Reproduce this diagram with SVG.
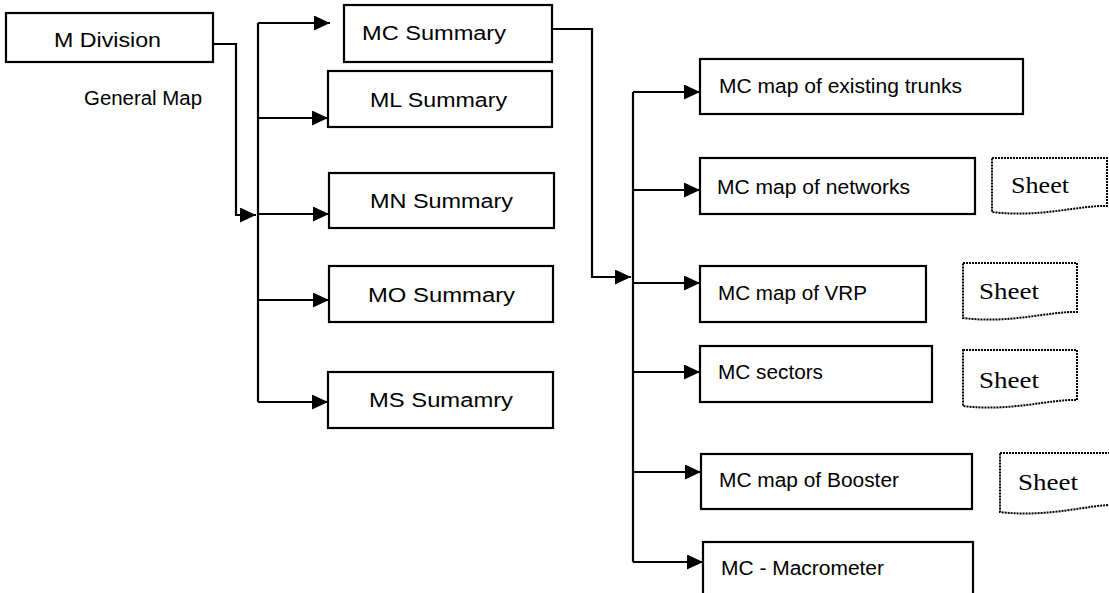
<svg xmlns="http://www.w3.org/2000/svg" width="1109" height="593" viewBox="0 0 1109 593">
<style>
.box{fill:#fff;stroke:#000;stroke-width:2.2}
.sheet{fill:#fff;stroke:#000;stroke-width:2;stroke-dasharray:2 1}
.t{font-family:"Liberation Sans",Arial,sans-serif;font-size:20px;fill:#000}
.s{font-family:"Liberation Serif","Times New Roman",serif;font-size:23px;fill:#000}
.c{fill:none;stroke:#000;stroke-width:2.2}
</style>
<defs>
<marker id="ah" markerUnits="userSpaceOnUse" markerWidth="17" markerHeight="15" refX="16" refY="7.5" orient="auto">
<path d="M0,0 L16,7.5 L0,15 Z" fill="#000"/>
</marker>
</defs>
<rect width="1109" height="593" fill="#fff"/>
<g id="connectors">
<path class="c" d="M213,44 H236 V215 H256" marker-end="url(#ah)"/>
<path class="c" d="M258,23 V402"/>
<path class="c" d="M258,23 H330" marker-end="url(#ah)"/>
<path class="c" d="M258,118 H328" marker-end="url(#ah)"/>
<path class="c" d="M258,214 H329" marker-end="url(#ah)"/>
<path class="c" d="M258,300 H329" marker-end="url(#ah)"/>
<path class="c" d="M258,402 H328" marker-end="url(#ah)"/>
<path class="c" d="M552,29 H592 V277 H631" marker-end="url(#ah)"/>
<path class="c" d="M633,92 V562"/>
<path class="c" d="M633,92 H700" marker-end="url(#ah)"/>
<path class="c" d="M633,190 H700" marker-end="url(#ah)"/>
<path class="c" d="M633,283 H700" marker-end="url(#ah)"/>
<path class="c" d="M633,372 H700" marker-end="url(#ah)"/>
<path class="c" d="M633,472 H701" marker-end="url(#ah)"/>
<path class="c" d="M633,562 H703" marker-end="url(#ah)"/>
</g>
<g id="m-division">
<rect class="box" x="6" y="13" width="207" height="49"/>
<text class="t" x="54" y="47" textLength="107" lengthAdjust="spacingAndGlyphs">M Division</text>
</g>
<g id="general-map">
<text class="t" x="84" y="105" textLength="118" lengthAdjust="spacingAndGlyphs">General Map</text>
</g>
<g id="mc-summary">
<rect class="box" x="344" y="5" width="208" height="57"/>
<text class="t" x="362" y="40" textLength="144" lengthAdjust="spacingAndGlyphs">MC Summary</text>
</g>
<g id="ml-summary">
<rect class="box" x="328" y="71" width="224" height="56"/>
<text class="t" x="370" y="107" textLength="137" lengthAdjust="spacingAndGlyphs">ML Summary</text>
</g>
<g id="mn-summary">
<rect class="box" x="329" y="173" width="225" height="55"/>
<text class="t" x="370" y="208" textLength="143" lengthAdjust="spacingAndGlyphs">MN Summary</text>
</g>
<g id="mo-summary">
<rect class="box" x="329" y="266" width="224" height="56"/>
<text class="t" x="368" y="302" textLength="147" lengthAdjust="spacingAndGlyphs">MO Summary</text>
</g>
<g id="ms-summary">
<rect class="box" x="328" y="372" width="225" height="56"/>
<text class="t" x="369" y="407" textLength="144" lengthAdjust="spacingAndGlyphs">MS Sumamry</text>
</g>
<g id="mc-trunks">
<rect class="box" x="700" y="59" width="323" height="55"/>
<text class="t" x="719" y="93" textLength="243" lengthAdjust="spacingAndGlyphs">MC map of existing trunks</text>
</g>
<g id="mc-networks">
<rect class="box" x="700" y="158" width="275" height="56"/>
<text class="t" x="717" y="194" textLength="193" lengthAdjust="spacingAndGlyphs">MC map of networks</text>
</g>
<g id="mc-vrp">
<rect class="box" x="700" y="266" width="226" height="56"/>
<text class="t" x="718" y="300" textLength="149" lengthAdjust="spacingAndGlyphs">MC map of VRP</text>
</g>
<g id="mc-sectors">
<rect class="box" x="700" y="346" width="232" height="56"/>
<text class="t" x="718" y="379" textLength="105" lengthAdjust="spacingAndGlyphs">MC sectors</text>
</g>
<g id="mc-booster">
<rect class="box" x="701" y="454" width="271" height="55"/>
<text class="t" x="719" y="487" textLength="180" lengthAdjust="spacingAndGlyphs">MC map of Booster</text>
</g>
<g id="mc-macrometer">
<rect class="box" x="703" y="542" width="270" height="70"/>
<text class="t" x="721" y="575" textLength="163" lengthAdjust="spacingAndGlyphs">MC - Macrometer</text>
</g>
<g id="sheet-1">
<path class="sheet" d="M992,158 H1107 V206 C1080,205 1040,218 992,212 Z"/>
<text class="s" x="1011" y="193" textLength="58" lengthAdjust="spacingAndGlyphs">Sheet</text>
</g>
<g id="sheet-2">
<path class="sheet" d="M963,263 H1077 V312 C1050,311 1010,324 963,318 Z"/>
<text class="s" x="979" y="299" textLength="60" lengthAdjust="spacingAndGlyphs">Sheet</text>
</g>
<g id="sheet-3">
<path class="sheet" d="M963,350 H1077 V400 C1050,399 1010,412 963,406 Z"/>
<text class="s" x="979" y="388" textLength="60" lengthAdjust="spacingAndGlyphs">Sheet</text>
</g>
<g id="sheet-4">
<path class="sheet" d="M1000,453 H1115 V505 C1090,504 1050,518 1000,512 Z"/>
<text class="s" x="1018" y="490" textLength="60" lengthAdjust="spacingAndGlyphs">Sheet</text>
</g>
</svg>
